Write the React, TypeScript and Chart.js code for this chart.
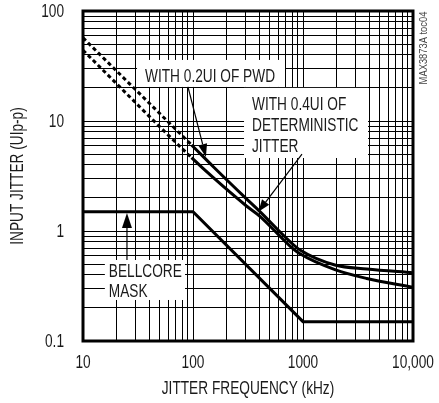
import React, { useEffect, useRef } from "react";
import { Chart, registerables } from "chart.js";

Chart.register(...registerables);

// ---- axis ticks ----
const FREQ_GRID = [
  10, 20, 30, 40, 50, 60, 70, 80, 90,
  100, 200, 300, 400, 500, 600, 700, 800, 900,
  1000, 2000, 3000, 4000, 5000, 6000, 7000, 8000, 9000, 10000,
];
const JITTER_GRID = [
  0.1, 0.2, 0.3, 0.4, 0.5, 0.6, 0.7, 0.8, 0.9,
  1, 2, 3, 4, 5, 6, 7, 8, 9,
  10, 20, 30, 40, 50, 60, 70, 80, 90, 100,
];
const FREQ_LABEL_VALUES = [10, 100, 1000, 10000];
const FREQ_LABEL_TEXT = ["10", "100", "1000", "10,000"];
const JITTER_LABEL_VALUES = [0.1, 1, 10, 100];
const JITTER_LABEL_TEXT = ["0.1", "1", "10", "100"];

// ---- series ----
const PWD_FREQ = [10, 97, 153, 308, 406, 762, 940, 1950, 3800, 10000];
const PWD_JITTER = [57, 6.05, 3.84, 1.95, 1.5, 0.8, 0.672, 0.491, 0.452, 0.418];
const DJ_FREQ = [10, 97, 153, 308, 406, 762, 940, 1950, 3800, 10000];
const DJ_JITTER = [44, 4.64, 3.05, 1.68, 1.36, 0.73, 0.62, 0.445, 0.37, 0.308];
const MASK_FREQ = [10, 100, 1000, 10000];
const MASK_JITTER = [1.5, 1.5, 0.15, 0.15];
const DASHED_BELOW_FREQ = 97;

// ---- texts ----
const PWD_LABEL = ["WITH 0.2UI OF PWD"];
const DJ_LABEL = ["WITH 0.4UI OF", "DETERMINISTIC", "JITTER"];
const MASK_LABEL = ["BELLCORE", "MASK"];
const X_TITLE = "JITTER FREQUENCY (kHz)";
const Y_TITLE = "INPUT JITTER (UIp-p)";
const WATERMARK = "MAX3873A toc04";

const FONT = '"Liberation Sans", Arial, sans-serif';
const TEXT_COLOR = "#1a1a1a";
const FONT_SIZE = 18;
const CONDENSE = 0.76;

// annotation boxes in data coordinates (freq range, jitter range)
const BOXES = [
  { f0: 31, f1: 686, v0: 35.9, v1: 20.4, lines: PWD_LABEL, padX: 8, base: 22, gap: 21 },
  { f0: 291, f1: 3900, v0: 20, v1: 4.61, lines: DJ_LABEL, padX: 8, base: 22, gap: 21 },
  { f0: 15.8, f1: 84.6, v0: 0.545, v1: 0.236, lines: MASK_LABEL, padX: 4, base: 17, gap: 20 },
];
// arrows: from (fa, va) to tip (fb, vb)
const ARROWS = [
  { fa: 90, va: 20.4, fb: 131, vb: 4.71, len: 13, half: 4.5 },
  { fa: 979, va: 5.01, fb: 393, vb: 1.5, len: 12, half: 4.5 },
  { fa: 25.1, va: 0.545, fb: 25.1, vb: 1.46, len: 15, half: 5 },
];

const toPts = (xs: number[], ys: number[]) => xs.map((x, i) => ({ x, y: ys[i] }));

function condensedText(
  ctx: CanvasRenderingContext2D,
  text: string,
  x: number,
  y: number,
  align: "left" | "center" | "right",
  size = FONT_SIZE,
  sx = CONDENSE,
  rotate = 0
) {
  ctx.save();
  ctx.font = `${size}px ${FONT}`;
  ctx.translate(x, y);
  if (rotate) ctx.rotate(rotate);
  ctx.scale(sx, 1);
  ctx.textAlign = align;
  ctx.fillText(text, 0, 0);
  ctx.restore();
}

const annotationPlugin = {
  id: "annot",
  afterDatasetsDraw(chart: any) {
    const { ctx, scales } = chart;
    const px = (f: number) => scales.x.getPixelForValue(f);
    const py = (v: number) => scales.y.getPixelForValue(v);
    ctx.save();
    ctx.textBaseline = "alphabetic";
    for (const b of BOXES) {
      const l = px(b.f0), r = px(b.f1), t = py(b.v0), bt = py(b.v1);
      ctx.fillStyle = "#fff";
      ctx.fillRect(l, t, r - l, bt - t);
      ctx.fillStyle = TEXT_COLOR;
      b.lines.forEach((s, i) => condensedText(ctx, s, l + b.padX, t + b.base + i * b.gap, "left"));
    }
    ctx.strokeStyle = "#000";
    ctx.fillStyle = "#000";
    ctx.lineWidth = 1.2;
    for (const a of ARROWS) {
      const x0 = px(a.fa), y0 = py(a.va), x1 = px(a.fb), y1 = py(a.vb);
      const ang = Math.atan2(y1 - y0, x1 - x0);
      const bx = x1 - Math.cos(ang) * a.len, by = y1 - Math.sin(ang) * a.len;
      ctx.beginPath();
      ctx.moveTo(x0, y0);
      ctx.lineTo(bx, by);
      ctx.stroke();
      ctx.beginPath();
      ctx.moveTo(x1, y1);
      ctx.lineTo(bx + Math.sin(ang) * a.half, by - Math.cos(ang) * a.half);
      ctx.lineTo(bx - Math.sin(ang) * a.half, by + Math.cos(ang) * a.half);
      ctx.closePath();
      ctx.fill();
    }
    ctx.restore();
  },
  afterDraw(chart: any) {
    const { ctx, chartArea, scales, width } = chart;
    ctx.save();
    // frame
    ctx.strokeStyle = "#000";
    ctx.lineWidth = 3;
    ctx.strokeRect(chartArea.left, chartArea.top, chartArea.right - chartArea.left, chartArea.bottom - chartArea.top);

    ctx.fillStyle = TEXT_COLOR;
    ctx.textBaseline = "middle";
    // x tick labels
    for (const t of scales.x.ticks) {
      const i = FREQ_LABEL_VALUES.indexOf(t.value);
      if (i < 0) continue;
      const text = FREQ_LABEL_TEXT[i];
      ctx.font = `${FONT_SIZE}px ${FONT}`;
      const w = ctx.measureText(text).width * CONDENSE;
      let cx = scales.x.getPixelForValue(t.value);
      cx = Math.min(cx, width - 3 - w / 2);
      condensedText(ctx, text, cx, chartArea.bottom + 22, "center");
    }
    // y tick labels
    for (const t of scales.y.ticks) {
      const i = JITTER_LABEL_VALUES.indexOf(t.value);
      if (i < 0) continue;
      condensedText(ctx, JITTER_LABEL_TEXT[i], chartArea.left - 19, scales.y.getPixelForValue(t.value) + 1, "right");
    }
    // axis titles
    condensedText(ctx, X_TITLE, (chartArea.left + chartArea.right) / 2, chartArea.bottom + 48, "center");
    condensedText(ctx, Y_TITLE, 18, (chartArea.top + chartArea.bottom) / 2, "center", FONT_SIZE, CONDENSE, -Math.PI / 2);
    // watermark
    ctx.fillStyle = "#444";
    condensedText(ctx, WATERMARK, chartArea.right + 11, chartArea.top + 37, "center", 11, 0.85, -Math.PI / 2);
    ctx.restore();
  },
};

export default function App() {
  const ref = useRef<HTMLCanvasElement | null>(null);
  useEffect(() => {
    if (!ref.current) return;
    const line = (data: any, dashed: boolean) => ({
      data,
      borderColor: "#000",
      borderWidth: 3,
      pointRadius: 0,
      fill: false,
      cubicInterpolationMode: "monotone",
      segment: dashed
        ? { borderDash: (c: any) => (c.p0.parsed.x < DASHED_BELOW_FREQ ? [4, 3] : undefined) }
        : undefined,
    });
    const noPad = (s: any) => {
      s.paddingTop = 0;
      s.paddingBottom = 0;
      s.paddingLeft = 0;
      s.paddingRight = 0;
    };
    const chart = new Chart(ref.current, {
      type: "line",
      data: {
        datasets: [
          line(toPts(PWD_FREQ, PWD_JITTER), true),
          line(toPts(DJ_FREQ, DJ_JITTER), true),
          { ...line(toPts(MASK_FREQ, MASK_JITTER), false), cubicInterpolationMode: "default", tension: 0 },
        ] as any,
      },
      options: {
        responsive: false,
        animation: false,
        events: [],
        layout: { padding: { top: 11, right: 26, left: 0, bottom: 0 } },
        plugins: { legend: { display: false }, tooltip: { enabled: false } },
        scales: {
          x: {
            type: "logarithmic",
            min: 10,
            max: 10000,
            afterBuildTicks: (s: any) => {
              s.ticks = FREQ_GRID.map((value) => ({ value }));
            },
            afterFit: (s: any) => {
              s.height = 62;
              noPad(s);
            },
            grid: { color: "#000", lineWidth: 1, drawTicks: false },
            border: { display: false },
            ticks: { display: false, autoSkip: false },
            title: { display: false },
          },
          y: {
            type: "logarithmic",
            min: 0.1,
            max: 100,
            afterBuildTicks: (s: any) => {
              s.ticks = JITTER_GRID.map((value) => ({ value }));
            },
            afterFit: (s: any) => {
              s.width = 83;
              noPad(s);
            },
            grid: { color: "#000", lineWidth: 1, drawTicks: false },
            border: { display: false },
            ticks: { display: false, autoSkip: false },
            title: { display: false },
          },
        },
      },
      plugins: [annotationPlugin],
    } as any);
    return () => chart.destroy();
  }, []);
  return (
    <div style={{ position: "absolute", left: 0, top: 0, width: 439, height: 403, background: "#fff" }}>
      <canvas ref={ref} width={439} height={403} style={{ display: "block" }} />
    </div>
  );
}
